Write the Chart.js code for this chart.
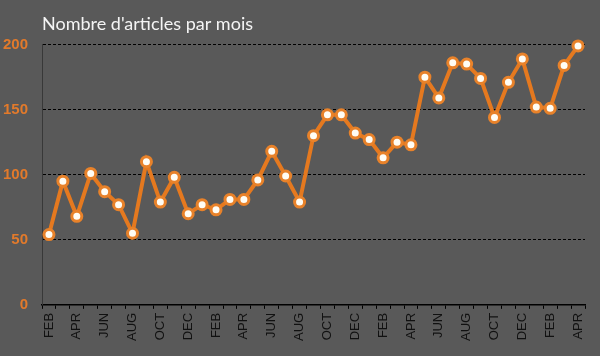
<!DOCTYPE html>
<html>
<head>
<meta charset="utf-8">
<script src="https://cdn.jsdelivr.net/npm/chart.js@4/dist/chart.umd.min.js"></script>
<style>
  html, body { margin: 0; padding: 0; background: #595959; }
  #wrap { width: 600px; height: 356px; position: relative; }
</style>
</head>
<body>
<div id="wrap"><canvas id="c" width="600" height="356"></canvas></div>
<script>
const titleText = "Nombre d'articles par mois";
const months = [
  'FEB','MAR','APR','MAY','JUN','JUL','AUG','SEP','OCT','NOV','DEC',
  'JAN','FEB','MAR','APR','MAY','JUN','JUL','AUG','SEP','OCT','NOV','DEC',
  'JAN','FEB','MAR','APR','MAY','JUN','JUL','AUG','SEP','OCT','NOV','DEC',
  'JAN','FEB','MAR','APR'
];
const articles = [
  54, 95, 68, 101, 87, 77, 55, 110, 79, 98, 70,
  77, 73, 81, 81, 96, 118, 99, 79, 130, 146, 146, 132,
  127, 113, 125, 123, 175, 159, 186, 185, 174, 144, 171, 189,
  152, 151, 184, 199
];
const yTicks = [0, 50, 100, 150, 200];

const orange = '#E5791F';

new Chart(document.getElementById('c'), {
  type: 'line',
  data: {
    labels: months,
    datasets: [{
      data: articles,
      borderColor: orange,
      borderWidth: 4,
      pointRadius: 5,
      pointBorderWidth: 3,
      pointBackgroundColor: '#FFFDF5',
      pointBorderColor: '#E8822A',
      pointHoverRadius: 5,
      tension: 0,
      clip: false
    }]
  },
  options: {
    responsive: false,
    animation: false,
    events: [],
    layout: { padding: { left: 2, right: 15, top: 0, bottom: 11 } },
    plugins: {
      legend: { display: false },
      tooltip: { enabled: false },
      title: {
        display: true,
        text: titleText,
        align: 'start',
        fullSize: false,
        color: '#F4F4F4',
        font: { family: 'Lato', size: 18, weight: 'normal' },
        padding: { top: 13, bottom: 10 }
      }
    },
    scales: {
      x: {
        type: 'category',
        offset: true,
        afterFit: function (scale) {
          scale.paddingLeft = 0;
          scale.paddingRight = 0;
        },
        grid: {
          display: true,
          offset: true,
          drawOnChartArea: false,
          drawTicks: true,
          tickLength: 4,
          color: '#000000',
          lineWidth: 1
        },
        border: { display: true, color: '#000000', width: 1.5 },
        ticks: {
          autoSkip: false,
          minRotation: 90,
          maxRotation: 90,
          padding: 4,
          color: '#111111',
          font: { family: 'Liberation Sans', size: 13 },
          callback: function (value, index) {
            return index % 2 === 0 ? months[index] : '';
          }
        }
      },
      y: {
        min: 0,
        max: 200,
        afterBuildTicks: function (scale) {
          scale.ticks = yTicks.map(v => ({ value: v }));
        },
        afterFit: function (scale) {
          scale.width = 40;
          scale.paddingTop = 0;
          scale.paddingBottom = 0;
        },
        grid: {
          color: '#000000',
          lineWidth: 1,
          drawTicks: false
        },
        border: { display: true, color: '#383838', width: 1, dash: [3, 2] },
        ticks: {
          padding: 14,
          color: '#E27A2B',
          font: { family: 'Liberation Sans', size: 15, weight: 'bold' }
        }
      }
    }
  }
});
</script>
</body>
</html>
